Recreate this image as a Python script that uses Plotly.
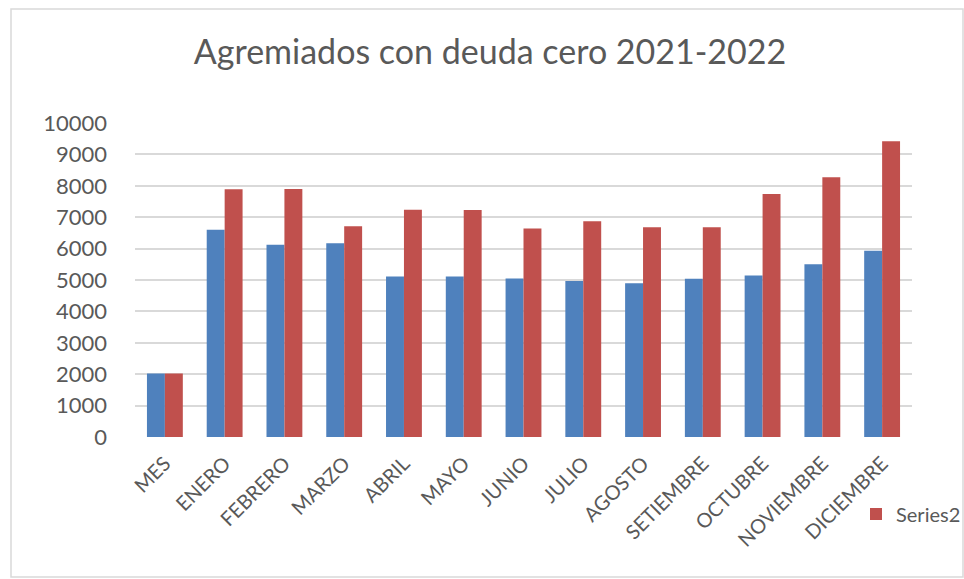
import plotly.graph_objects as go

categories = ["MES", "ENERO", "FEBRERO", "MARZO", "ABRIL", "MAYO", "JUNIO",
              "JULIO", "AGOSTO", "SETIEMBRE", "OCTUBRE", "NOVIEMBRE", "DICIEMBRE"]
series1 = [2021, 6600, 6120, 6170, 5110, 5110, 5050, 4970, 4900, 5040, 5140, 5500, 5930]
series2 = [2022, 7890, 7900, 6710, 7240, 7230, 6640, 6870, 6680, 6680, 7740, 8270, 9420]
y_ticks = [0, 1000, 2000, 3000, 4000, 5000, 6000, 7000, 8000, 9000, 10000]
y_tick_text = [str(v) for v in y_ticks]

W, H = 964, 579
L, R, T, B = 135, 52, 123, 142
pw, ph = W - L - R, H - T - B
FONT = "Lato"
GREY = "#595959"

fig = go.Figure()
fig.add_trace(go.Bar(x=categories, y=series1, name="Series1",
                     marker=dict(color="#4F81BD", line=dict(width=0)),
                     showlegend=False))
fig.add_trace(go.Bar(x=categories, y=series2, name="Series2",
                     marker=dict(color="#C0504D", line=dict(width=0))))

def px_x(p):
    return (p - L) / pw

def px_y(p):
    return (H - B - p) / ph

fig.update_layout(
    width=W, height=H,
    margin=dict(l=L, r=R, t=T, b=B, autoexpand=False),
    paper_bgcolor="white", plot_bgcolor="white",
    barmode="group", bargap=0.4, bargroupgap=0,
    font=dict(family=FONT, color=GREY, size=20),
    title=dict(text="Agremiados con deuda cero 2021-2022",
               x=490 / W, xref="container", xanchor="center",
               y=1 - 52 / H, yref="container", yanchor="middle",
               font=dict(size=34, color=GREY, family=FONT)),
    xaxis=dict(tickangle=-45, showgrid=False, showline=False, ticks="",
               ticklabelstandoff=10, tickfont=dict(size=20, color=GREY)),
    yaxis=dict(range=[0, 10000], tickvals=y_ticks, ticktext=y_tick_text,
               showgrid=True, gridcolor="#D9D9D9", gridwidth=2,
               zeroline=False, showline=False, ticks="",
               ticklabelstandoff=27, tickfont=dict(size=22, color=GREY)),
    legend=dict(x=856 / W, xref="container", xanchor="left",
                y=1 - 514 / H, yref="container", yanchor="middle",
                font=dict(size=20, color=GREY), bgcolor="rgba(0,0,0,0)",
                itemwidth=30),
    shapes=[dict(type="rect", xref="paper", yref="paper",
                 x0=px_x(11), x1=px_x(963), y0=px_y(577), y1=px_y(9),
                 line=dict(color="#D9D9D9", width=1.5), layer="below")],
)

fig.write_html("out.html",
               config={"displayModeBar": False},
               post_script="document.body.style.margin='0';"
                           "document.body.style.overflow='hidden';")
